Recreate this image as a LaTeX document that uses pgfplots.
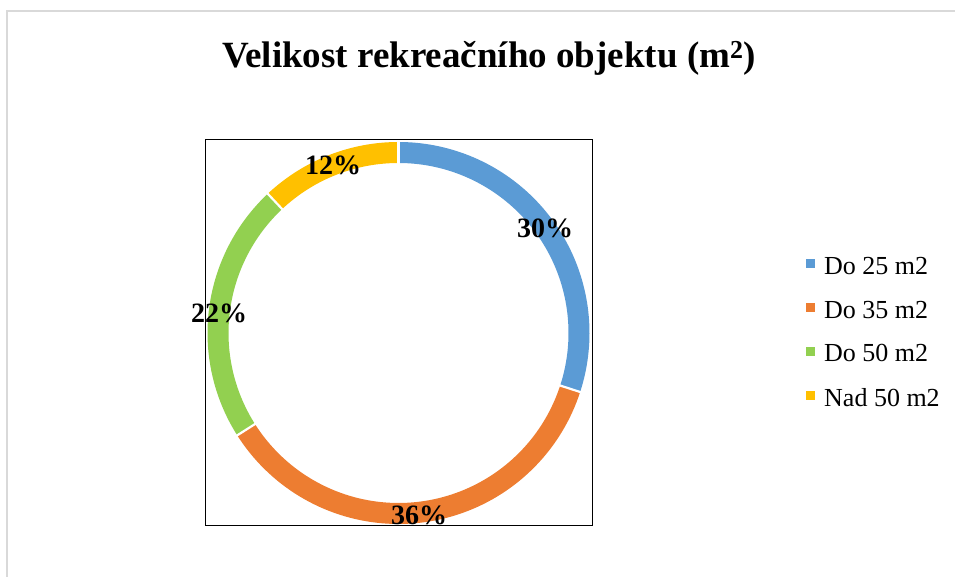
\documentclass[border=0pt]{standalone}
\usepackage{pgfplots}
\pgfplotsset{compat=1.18}
\usepackage{fontspec}
\setmainfont{Liberation Serif}
\definecolor{cA}{HTML}{5B9BD5}
\definecolor{cB}{HTML}{ED7D31}
\definecolor{cC}{HTML}{92D050}
\definecolor{cD}{HTML}{FFC000}
\definecolor{frameG}{HTML}{D9D9D9}
% data (percent)
\def\vA{30}\def\vB{36}\def\vC{22}\def\vD{12}
\pgfmathsetmacro\angA{90}
\pgfmathsetmacro\angB{\angA-3.6*\vA}
\pgfmathsetmacro\angC{\angB-3.6*\vB}
\pgfmathsetmacro\angD{\angC-3.6*\vC}
\pgfmathsetmacro\angE{\angD-3.6*\vD}
\def\ringX{398.5}\def\ringY{244}\def\ringR{180.5}
\begin{document}
\begin{tikzpicture}
\useasboundingbox (0,0) rectangle (955pt,577pt);
\begin{axis}[
  x=1pt, y=1pt, xmin=0, xmax=955, ymin=0, ymax=577,
  scale only axis, hide axis, clip=false,
  at={(0,0)}, anchor=origin,
  legend style={at={(axis cs:806,320)}, anchor=north west, draw=none, fill=none,
    inner sep=0pt, font=\fontsize{26}{30}\selectfont,
    nodes={inner sep=0pt},
    row sep=25pt, column sep=9pt},
  legend cell align=left,
  legend image code/.code={\node[draw=none, fill=#1, minimum size=9pt, inner sep=0pt] at (4.5pt,0.27em) {};},
]
% frame
\draw[frameG, line width=1.5pt] (axis cs:7,0) -- (axis cs:7,566) -- (axis cs:955,566);
% plot area box
\draw[black, line width=1pt] (axis cs:205,51) rectangle (axis cs:592,437);
% ring segments
\addplot[cA, line width=21pt, domain=\angB:\angA, samples=80] ({\ringX+\ringR*cos(x)},{\ringY+\ringR*sin(x)});
\addplot[cB, line width=21pt, domain=\angC:\angB, samples=80] ({\ringX+\ringR*cos(x)},{\ringY+\ringR*sin(x)});
\addplot[cC, line width=21pt, domain=\angD:\angC, samples=80] ({\ringX+\ringR*cos(x)},{\ringY+\ringR*sin(x)});
\addplot[cD, line width=21pt, domain=\angE:\angD, samples=80] ({\ringX+\ringR*cos(x)},{\ringY+\ringR*sin(x)});
% separators
\pgfplotsinvokeforeach{\angA,\angB,\angC,\angD}{
  \draw[white, line width=2.2pt] (axis cs:{\ringX+168*cos(#1)},{\ringY+168*sin(#1)}) -- (axis cs:{\ringX+193*cos(#1)},{\ringY+193*sin(#1)});
}
\addlegendimage{cA}\addlegendentry{Do 25 m2}
\addlegendimage{cB}\addlegendentry{Do 35 m2}
\addlegendimage{cC}\addlegendentry{Do 50 m2}
\addlegendimage{cD}\addlegendentry{Nad 50 m2}
% labels
\node[font=\fontsize{28}{32}\selectfont\bfseries] at (axis cs:545,349) {30\%};
\node[font=\fontsize{28}{32}\selectfont\bfseries] at (axis cs:419,62) {36\%};
\node[font=\fontsize{28}{32}\selectfont\bfseries] at (axis cs:219,264) {22\%};
\node[font=\fontsize{28}{32}\selectfont\bfseries] at (axis cs:333,412) {12\%};
\node[font=\fontsize{37}{42}\selectfont\bfseries] at (axis cs:489,519) {Velikost rekreačního objektu (m\textsuperscript{2})};
\end{axis}
\end{tikzpicture}
\end{document}
